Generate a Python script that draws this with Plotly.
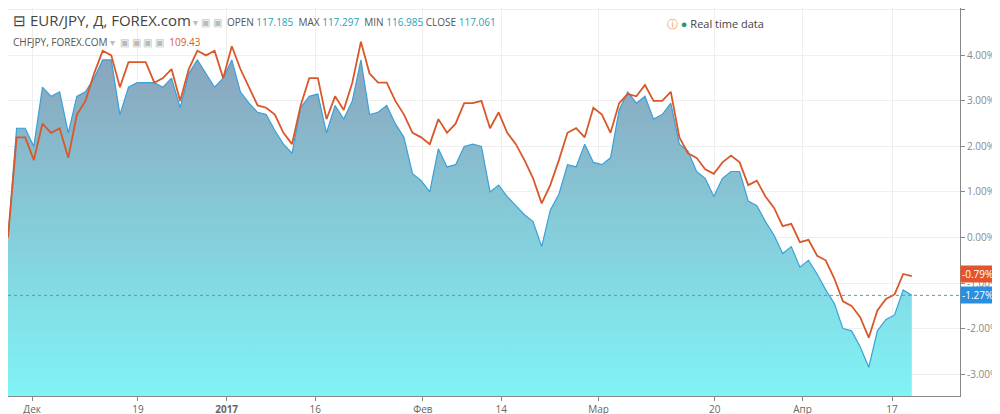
import plotly.graph_objects as go

eurjpy = [0, 2.2, 2.2, 1.7, 2.5, 2.3, 2.4, 1.75, 2.7, 3.0,
          3.6, 4.1, 4.0, 3.3, 3.85, 3.85, 3.85, 3.4, 3.5, 3.7,
          3.0, 3.7, 4.1, 4.0, 4.1, 3.5, 4.2, 3.7, 3.3, 2.9,
          2.85, 2.7, 2.3, 2.05, 2.9, 3.5, 3.5, 2.6, 3.1, 2.8,
          3.4, 4.3, 3.6, 3.4, 3.4, 3.0, 2.7, 2.3, 2.2, 2.05,
          2.6, 2.3, 2.5, 2.95, 2.95, 3.0, 2.4, 2.75, 2.3, 2.05,
          1.7, 1.3, 0.75, 1.15, 1.7, 2.3, 2.4, 2.2, 2.85, 2.7,
          2.3, 2.95, 3.15, 3.1, 3.35, 3.0, 3.0, 3.2, 2.2, 1.85,
          1.75, 1.5, 1.4, 1.65, 1.8, 1.65, 1.15, 1.25, 0.9, 0.65,
          0.25, 0.3, -0.1, -0.05, -0.4, -0.5, -0.9, -1.4, -1.5, -1.75,
          -2.2, -1.6, -1.35, -1.25, -0.8, -0.85]
chfjpy = [0, 2.4, 2.4, 2.0, 3.3, 3.1, 3.2, 2.3, 3.1, 3.2,
          3.5, 3.9, 3.9, 2.7, 3.3, 3.4, 3.4, 3.4, 3.3, 3.5,
          2.85, 3.6, 3.9, 3.6, 3.3, 3.5, 3.9, 3.2, 2.95, 2.75,
          2.7, 2.35, 2.05, 1.85, 2.85, 3.1, 3.15, 2.3, 2.9, 2.6,
          3.0, 3.9, 2.7, 2.75, 2.9, 2.5, 2.2, 1.4, 1.25, 1.0,
          1.95, 1.55, 1.6, 2.0, 2.05, 2.0, 1.0, 1.15, 0.9, 0.7,
          0.5, 0.35, -0.2, 0.6, 0.95, 1.6, 1.55, 2.05, 1.65, 1.6,
          1.75, 2.8, 3.2, 2.95, 3.1, 2.6, 2.7, 2.95, 2.05, 1.9,
          1.45, 1.3, 0.9, 1.3, 1.45, 1.45, 0.8, 0.7, 0.35, 0.05,
          -0.35, -0.2, -0.65, -0.5, -0.8, -1.15, -1.45, -2.0, -2.05, -2.4,
          -2.85, -2.05, -1.8, -1.7, -1.15, -1.27]
tick_idx = [2.8, 15.1, 25.4, 35.7, 48.2, 57.3, 68.6, 82.1, 92.3, 102.7]
tick_txt = ["Дек", "19", "<b>2017</b>", "16", "Фев", "14", "Мар", "20", "Апр", "17"]
y_ticks = [-3, -2, -1, 0, 1, 2, 3, 4, 5]
last_eur = -0.79
last_chf = -1.27

x = list(range(len(eurjpy)))
ymin, ymax = -3.48, 5.04

fig = go.Figure()
fig.add_trace(go.Scatter(x=x, y=[ymin] * len(x), mode="lines", line=dict(width=0),
                         hoverinfo="skip", showlegend=False))
fig.add_trace(go.Scatter(x=x, y=chfjpy, mode="lines", line=dict(color="#3aa0d8", width=1.2),
                         fill="tonexty",
                         fillgradient=dict(type="vertical",
                                           colorscale=[[0, "#80f4f6"], [1, "#8aa5bd"]]),
                         showlegend=False))
fig.add_trace(go.Scatter(x=x, y=eurjpy, mode="lines", line=dict(color="#d9582a", width=1.8),
                         showlegend=False))

fig.add_shape(type="line", xref="paper", x0=0, x1=1, yref="y", y0=last_chf, y1=last_chf,
              line=dict(color="#3aa0d8", width=1, dash="dot"))

for val, col in [(last_eur, "#e5532a"), (last_chf, "#2a8fe0")]:
    fig.add_annotation(xref="paper", x=1.0, xanchor="left", y=val, yref="y",
                       text=f"{val:.2f}%", showarrow=False, bgcolor=col,
                       font=dict(color="white", size=10, family="Open Sans"), borderpad=1)

fig.add_annotation(xref="paper", yref="paper", x=0.003, y=1.0, xanchor="left", yanchor="top",
                   showarrow=False, align="left",
                   text="<span style='font-size:15px;color:#444'>⊟ EUR/JPY, Д, FOREX.com</span>"
                        "<span style='color:#bbb'> ▾ ▣ ▣ </span>"
                        "<span style='font-size:10px;color:#555'> OPEN <span style='color:#2aa0b8'>117.185</span>"
                        "  MAX <span style='color:#2aa0b8'>117.297</span>  MIN <span style='color:#2aa0b8'>116.985</span>"
                        " CLOSE <span style='color:#2aa0b8'>117.061</span></span>",
                   font=dict(family="Open Sans", size=10))
fig.add_annotation(xref="paper", yref="paper", x=0.003, y=0.935, xanchor="left", yanchor="top",
                   showarrow=False,
                   text="<span style='color:#555'>CHFJPY, FOREX.COM</span><span style='color:#bbb'> ▾  ▣ ▣ ▣ ▣  </span>"
                        "<span style='color:#d9582a'>109.43</span>",
                   font=dict(family="Open Sans", size=10))
fig.add_annotation(xref="paper", yref="paper", x=0.69, y=0.985, xanchor="left", yanchor="top",
                   showarrow=False,
                   text="<span style='color:#e89a3a'>ⓘ</span> <span style='color:#2a9a6a'>●</span> Real time data",
                   font=dict(family="Open Sans", size=11, color="#444"))

fig.update_layout(
    width=1000, height=414, margin=dict(l=0, r=48, t=0, b=26),
    paper_bgcolor="white", plot_bgcolor="white",
    xaxis=dict(range=[0, 110.6], tickvals=tick_idx, ticktext=tick_txt, showgrid=True,
               gridcolor="#eeeeee", ticks="outside", ticklen=4, tickcolor="#888",
               showline=True, linecolor="#888", zeroline=False,
               tickfont=dict(size=10, color="#666", family="Open Sans")),
    yaxis=dict(range=[ymin, ymax], side="right", tickvals=y_ticks,
               ticktext=[f"{v:.2f}%" for v in y_ticks], showgrid=True, gridcolor="#eeeeee",
               ticks="outside", ticklen=4, tickcolor="#888", showline=True, linecolor="#888",
               zeroline=False, tickfont=dict(size=10, color="#888", family="Open Sans")),
)
fig.write_html("out.html")
